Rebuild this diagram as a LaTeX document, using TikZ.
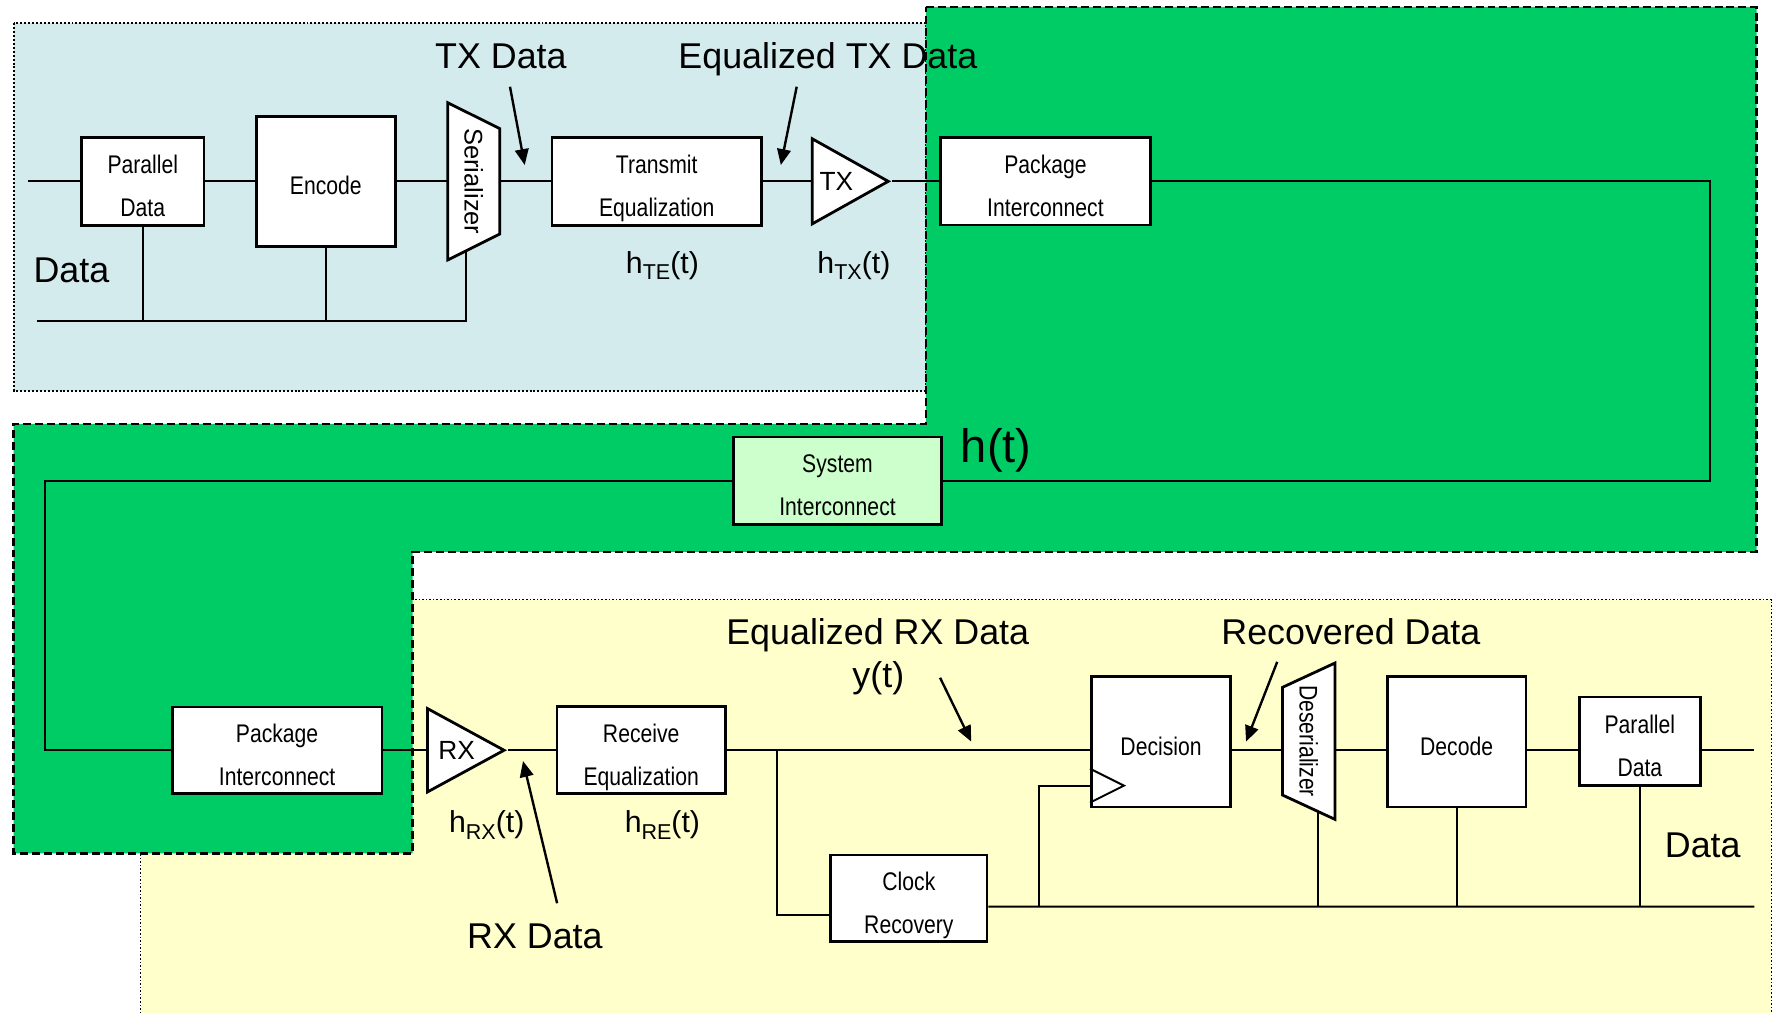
\documentclass[tikz,border=0pt]{standalone}
\usepackage{fontspec}
\setmainfont{Liberation Sans}
\newfontfamily\sdnarrow[FakeStretch=0.83]{Liberation Sans}
\usetikzlibrary{arrows.meta,shapes.geometric}

\definecolor{sdtxbg}{RGB}{211,235,237}
\definecolor{sdchbg}{RGB}{0,204,102}
\definecolor{sdrxbg}{RGB}{255,255,204}
\definecolor{sdsysbg}{RGB}{204,255,204}

\newcommand{\sdsub}[1]{\raisebox{-1.7pt}{\fontsize{5.4}{6}\selectfont #1}}

\tikzset{
  sdbox/.style={draw, line width=0.7pt, fill=white, inner sep=0pt, align=center, text height=19.15pt, text depth=1.35pt, font=\sdnarrow\fontsize{6.4}{10.9}\selectfont},
  sdbox1/.style={sdbox, text height=6.8pt, text depth=0pt},
  sdamp/.style={draw, line width=0.7pt, fill=white, isosceles triangle, isosceles triangle stretches, inner sep=0pt},
  sdamptxt/.style={anchor=west, inner sep=0pt, font=\fontsize{6.6}{8}\selectfont},
  sdshape/.style={draw, line width=0.7pt, fill=white},
  sdmux/.style={inner sep=0pt},
  sdwire/.style={line width=0.5pt},
  sdarr/.style={line width=0.6pt, -{Triangle[length=1.4mm,width=1.2mm]}},
  sdlab/.style={anchor=base, inner sep=0pt, font=\fontsize{9}{11}\selectfont},
  sdhlab/.style={anchor=base, inner sep=0pt, font=\fontsize{7.6}{9}\selectfont},
  sdbig/.style={anchor=base, inner sep=0pt, font=\fontsize{11.8}{14}\selectfont},
  sdtxreg/.style={draw, fill=sdtxbg, line width=0.5pt, dash pattern=on 0.5pt off 0.5pt},
  sdchreg/.style={draw, fill=sdchbg, line width=0.6pt, dash pattern=on 2pt off 1pt},
  sdrxreg/.style={draw, line width=0.4pt, dash pattern=on 0.4pt off 0.5pt}
}

\begin{document}
\begin{tikzpicture}[x=0.1mm,y=-0.1mm]
\useasboundingbox (0,0) rectangle (1568,893);

% regions
\fill[sdrxbg] (124,529) rectangle (1563,910);
\draw[sdrxreg] (124,910) -- (124,529) -- (1563,529) -- (1563,910);
\draw[sdtxreg] (12,20) rectangle (817,345);
\draw[sdchreg] (817,6) -- (1550,6) -- (1550,487) -- (364,487) -- (364,753)
  -- (12,753) -- (12,374) -- (817,374) -- cycle;

% transmitter
\node[sdbox, minimum width=10.8mm, minimum height=7.8mm] (pdtx) at (126,160) {Parallel\\Data};
\node[sdbox1, minimum width=12.3mm, minimum height=11.5mm] (enc) at (287.5,160) {Encode};
\draw[sdshape] (395,90.6) -- (441,113.5) -- (441,206.5) -- (395,229.4) -- cycle;
\node[sdmux, minimum width=4.6mm, minimum height=13.8mm] (ser) at (418,160)
  {\rotatebox{-90}{\fontsize{6.4}{8}\selectfont Serializer}};
\node[sdbox, minimum width=18.5mm, minimum height=7.75mm] (teq) at (579.5,160) {Transmit\\Equalization};
\node[sdamp, minimum height=6.7mm, minimum width=7.5mm, anchor=apex,
  label={[sdamptxt, xshift=0.7mm]west:TX}] (tx) at (787,160) {};
\node[sdbox, minimum width=18.5mm, minimum height=7.7mm] (pktx) at (922.5,160) {Package\\Interconnect};

\coordinate (txin) at (25,160);
\coordinate (txbusL) at (33,283);
\coordinate (serfoot) at (411,221.4);
\draw[sdwire] (txin) -- (pdtx.west);
\draw[sdwire] (pdtx.east) -- (enc.west);
\draw[sdwire] (enc.east) -- (ser.west);
\draw[sdwire] (ser.east) -- (teq.west);
\draw[sdwire] (teq.east) -- (tx.west);
\draw[sdwire] (tx.apex) -- (pktx.west);
\draw[sdwire] (txbusL) -| (serfoot);
\draw[sdwire] (pdtx.south) -- (pdtx.south |- txbusL);
\draw[sdwire] (enc.south) -- (enc.south |- txbusL);

% channel
\node[sdbox, fill=sdsysbg, minimum width=18.4mm, minimum height=7.7mm] (sys) at (739,424) {System\\Interconnect};
\coordinate (chR) at (1509,424);
\coordinate (chL) at (39.6,424);
\draw[sdwire] (pktx.east) -| (chR) -- (sys.east);

% receiver
\node[sdbox, minimum width=18.5mm, minimum height=7.65mm] (pkrx) at (244.5,662) {Package\\Interconnect};
\node[sdamp, minimum height=6.75mm, minimum width=7.35mm, anchor=apex,
  label={[sdamptxt, xshift=1mm]west:RX}] (rx) at (448,662) {};
\node[sdbox, minimum width=14.85mm, minimum height=7.7mm] (req) at (565.8,662) {Receive\\Equalization};
\node[sdbox1, minimum width=12.3mm, minimum height=11.5mm] (dec) at (1024.5,654.5) {Decision};
\draw[sdshape] (1131.6,606.5) -- (1178,585) -- (1178,723) -- (1131.6,701.5) -- cycle;
\node[sdmux, minimum width=4.64mm, minimum height=13.8mm] (des) at (1154.8,654)
  {\rotatebox{-90}{\sdnarrow\fontsize{6.4}{8}\selectfont Deserializer}};
\node[sdbox1, minimum width=12.25mm, minimum height=11.5mm] (dcd) at (1285.3,654.5) {Decode};
\node[sdbox, minimum width=10.7mm, minimum height=7.8mm] (pdrx) at (1447,654) {Parallel\\Data};
\node[sdbox, minimum width=13.8mm, minimum height=7.65mm] (clk) at (802,792.75) {Clock\\Recovery};

\draw[sdwire] (sys.west) -- (chL) |- (pkrx.west);
\draw[sdwire] (pkrx.east) -- (rx.west);
\draw[sdwire] (rx.apex) -- (req.west);
\draw[sdwire] (req.east) -- (dec.west |- req.east);
\draw[sdwire] (dec.east |- req.east) -- (des.west |- req.east);
\draw[sdwire] (des.east |- req.east) -- (dcd.west |- req.east);
\draw[sdwire] (dcd.east |- req.east) -- (pdrx.west |- req.east);
\coordinate (rxout) at (1548,662);
\draw[sdwire] (pdrx.east |- req.east) -- (rxout);

\coordinate (brA) at (686,662);
\coordinate (ckA) at (916.5,800);
\coordinate (rxbusR) at (1548,800);
\coordinate (desfoot) at (1163,716);
\draw[sdwire] (brA) |- ([yshift=-1.5mm]clk.west);
\draw[sdwire] ([yshift=-0.725mm]clk.east) -- (rxbusR);
\draw[sdwire] (ckA) |- ([yshift=2mm]dec.south west);
\draw[sdwire] ([yshift=3.5mm]dec.south west) -- ++(30,15) -- ++(-30,15);
\draw[sdwire] (desfoot) -- (desfoot |- rxbusR);
\draw[sdwire] (dcd.south) -- (dcd.south |- rxbusR);
\draw[sdwire] (pdrx.south) -- (pdrx.south |- rxbusR);

% labels
\node[sdlab] (txdlab) at (442,60) {TX Data};
\node[sdlab] (etxlab) at (730.5,60) {Equalized TX Data};
\node[sdhlab] (hte) at (584.5,241) {h\sdsub{TE}(t)};
\node[sdhlab] (htx) at (753.5,241) {h\sdsub{TX}(t)};
\node[sdlab] (txdata) at (63,249) {Data};
\node[sdbig] (ht) at (879,408.5) {h(t)};
\node[sdlab] (erxlab) at (774.5,569) {Equalized RX Data};
\node[sdlab] (ytlab) at (775,607) {y(t)};
\node[sdlab] (reclab) at (1192,569) {Recovered Data};
\node[sdhlab] (hrx) at (429.5,734.5) {h\sdsub{RX}(t)};
\node[sdhlab] (hre) at (584.5,734.5) {h\sdsub{RE}(t)};
\node[sdlab] (rxdlab) at (472,837) {RX Data};
\node[sdlab] (rxdata) at (1502.5,757) {Data};

% pointers
\coordinate (txdtail) at (450,76.5);
\coordinate (txdtip) at (463,145.6);
\coordinate (etxtail) at (703,76.5);
\coordinate (etxtip) at (689,145.6);
\coordinate (yttail) at (829.5,598);
\coordinate (yttip) at (857,654.4);
\coordinate (rectail) at (1127,584);
\coordinate (rectip) at (1099.5,654.4);
\coordinate (rxdtail) at (491.6,797);
\coordinate (rxdtip) at (461.5,671.5);
\draw[sdarr] (txdtail) -- (txdtip);
\draw[sdarr] (etxtail) -- (etxtip);
\draw[sdarr] (yttail) -- (yttip);
\draw[sdarr] (rectail) -- (rectip);
\draw[sdarr] (rxdtail) -- (rxdtip);
\end{tikzpicture}
\end{document}
